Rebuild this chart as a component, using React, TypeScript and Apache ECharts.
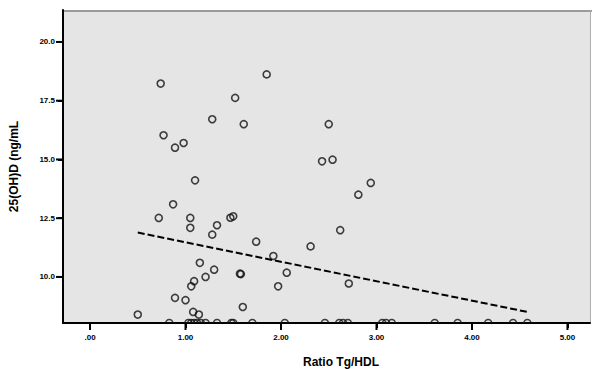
import React, { useEffect, useRef } from "react";
import * as echarts from "echarts";

const ratioX: number[] = [
  0.74, 1.85, 1.52, 1.28, 1.61, 2.5, 0.77, 0.89, 0.98, 2.43, 2.54, 1.1, 2.94, 2.81,
  0.87, 0.72, 1.05, 1.05, 1.33, 1.28, 1.47, 1.5, 2.62, 1.74, 2.31, 1.92, 1.15, 1.3,
  1.21, 1.57, 1.58, 2.06, 1.09, 1.06, 1.97, 2.71, 0.89, 1.0, 1.6, 0.5, 1.08, 1.14,
];
const vitD: number[] = [
  18.23, 18.62, 17.62, 16.71, 16.5, 16.5, 16.03, 15.5, 15.7, 14.92, 14.99, 14.11, 14.0, 13.5,
  13.09, 12.51, 12.51, 12.09, 12.2, 11.8, 12.52, 12.58, 11.99, 11.5, 11.3, 10.89, 10.6, 10.31,
  10.0, 10.14, 10.12, 10.18, 9.82, 9.6, 9.6, 9.72, 9.11, 9.01, 8.72, 8.4, 8.51, 8.4,
];
const floorX: number[] = [
  0.83, 1.03, 1.06, 1.09, 1.12, 1.16, 1.21, 1.33, 1.48, 1.5, 1.7, 2.04, 2.46, 2.61, 2.65, 2.7,
  3.06, 3.1, 3.16, 3.61, 3.85, 4.17, 4.43, 4.58,
];
const floorY = 8.04;
const fitX: number[] = [0.5, 4.58];
const fitY: number[] = [11.89, 8.51];
const xTicks: number[] = [0, 1, 2, 3, 4, 5];
const yTicks: number[] = [10, 12.5, 15, 17.5, 20];
const X_MIN = -0.283;
const X_MAX = 5.236;
const Y_MIN = 8.04;
const Y_MAX = 21.36;

export default function App() {
  const ref = useRef<HTMLDivElement>(null);
  useEffect(() => {
    if (!ref.current) return;
    const chart = echarts.init(ref.current, null, { renderer: "svg" });
    const font = "'Liberation Sans', Arial, sans-serif";
    chart.setOption({
      animation: false,
      grid: {
        left: 63,
        top: 10,
        right: 2,
        bottom: 46,
        show: true,
        backgroundColor: "#e5e5e5",
        borderWidth: 0,
      },
      xAxis: {
        type: "value",
        min: X_MIN,
        max: X_MAX,
        axisLine: { show: true, onZero: false, lineStyle: { color: "#000", width: 2 } },
        axisTick: { show: true, customValues: xTicks, inside: false, length: 5, lineStyle: { color: "#000", width: 2 } },
        axisLabel: {
          customValues: xTicks,
          formatter: (v: number) => (v === 0 ? ".00" : v.toFixed(2)),
          fontSize: 8,
          fontWeight: "bold",
          color: "#000",
          fontFamily: font,
          margin: 10,
        },
        splitLine: { show: false },
      },
      yAxis: {
        type: "value",
        min: Y_MIN,
        max: Y_MAX,
        name: "25(OH)D (ng/mL",
        nameLocation: "middle",
        nameRotate: 90,
        nameGap: 43,
        nameTextStyle: { fontSize: 12, fontWeight: "bold", color: "#000", fontFamily: font },
        axisLine: { show: true, onZero: false, lineStyle: { color: "#000", width: 2 } },
        axisTick: { show: true, customValues: yTicks, inside: false, length: 5, lineStyle: { color: "#000", width: 2 } },
        axisLabel: {
          customValues: yTicks,
          formatter: (v: number) => v.toFixed(1),
          fontSize: 8,
          fontWeight: "bold",
          color: "#000",
          fontFamily: font,
          margin: 8,
        },
        splitLine: { show: false },
      },
      graphic: [
        {
          type: "rect",
          shape: { x: 63, y: 10, width: 529, height: 2 },
          style: { fill: "#9a9a9a" },
        },
        {
          type: "rect",
          shape: { x: 590, y: 10, width: 1, height: 313 },
          style: { fill: "#b0b0b0" },
        },
        {
          type: "text",
          x: 341,
          y: 362,
          style: {
            text: "Ratio Tg/HDL",
            fontSize: 12,
            fontWeight: "bold",
            fill: "#000",
            fontFamily: font,
            textAlign: "center",
            textVerticalAlign: "middle",
          },
        },
      ],
      series: [
        {
          name: "xTicks",
          type: "scatter",
          silent: true,
          clip: false,
          data: xTicks.map((v) => [v, Y_MIN]),
          symbol: "rect",
          symbolSize: [2, 6],
          symbolOffset: [0, 4],
          itemStyle: { color: "#000", opacity: 1 },
        },
        {
          name: "yTicks",
          type: "scatter",
          silent: true,
          clip: false,
          data: yTicks.map((v) => [X_MIN, v]),
          symbol: "rect",
          symbolSize: [6, 2],
          symbolOffset: [-4, 0],
          itemStyle: { color: "#000", opacity: 1 },
        },
        {
          type: "scatter",
          data: ratioX.map((x, i) => [x, vitD[i]]),
          symbol: "circle",
          symbolSize: 7,
          itemStyle: { color: "rgba(0,0,0,0)", borderColor: "#111", borderWidth: 1.6 },
        },
        {
          type: "scatter",
          data: floorX.map((x) => [x, floorY]),
          symbol: "path://M0,5 A5,5 0 0 1 10,5",
          symbolKeepAspect: true,
          symbolSize: 7,
          symbolOffset: [0, -1.75],
          itemStyle: { color: "rgba(0,0,0,0)", borderColor: "#111", borderWidth: 1.6 },
        },
        {
          type: "line",
          data: fitX.map((x, i) => [x, fitY[i]]),
          symbol: "none",
          lineStyle: { color: "#000", width: 2, type: [7, 3] },
        },
      ],
    });
    return () => chart.dispose();
  }, []);
  return <div ref={ref} style={{ width: 592, height: 369, position: "absolute", left: 0, top: 0 }} />;
}
